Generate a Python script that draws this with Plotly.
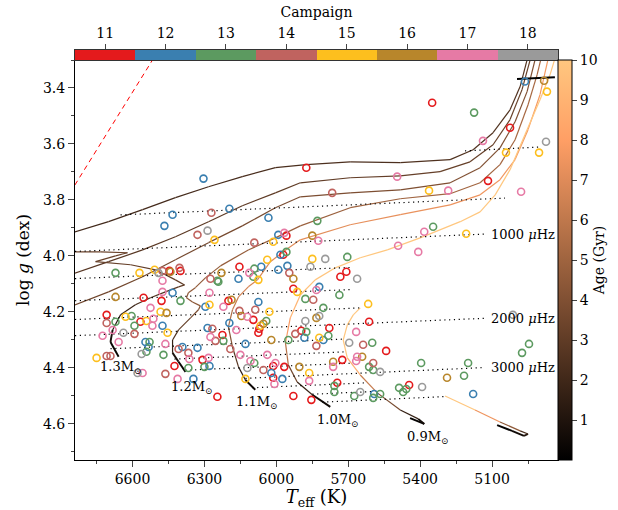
import plotly.graph_objects as go

# ---------------- stars: Teff (K), log g (dex), K2 campaign ----------------
star_teff = [6304, 5875, 6433, 6467, 6271, 6196, 6033, 6287, 6329, 6258, 6092, 5829, 5992, 5967, 5958, 5850, 6013, 5825,
             5350, 5175, 4963, 4883, 4871, 5025, 5138, 4875, 5042, 4904, 5496, 5767, 5363, 5283, 5117, 4979, 5383, 5346,
             5208, 5492, 5408, 6038, 5983, 5971, 5958, 5850, 5796, 5704, 6063, 5992, 5954, 5858, 5946, 5733, 5708, 5663,
             5929, 6092, 6075, 6154, 6113, 6096, 6229, 6158, 6275, 6246, 6671, 6571, 6508, 6475, 6446, 6442, 6404, 6400,
             6492, 6475, 6671, 6554, 6479, 6475, 6433, 6400, 6525, 6483, 6458, 6708, 6708, 6629, 6604, 6671, 6567, 6542,
             6513, 6592, 6517, 6475, 6683, 6638, 6592, 6725, 6454, 6658, 6546, 6529, 6533, 6542, 6562, 6692, 6708, 6750,
             6579, 6558, 6463, 6471, 6463, 6408, 6392, 6367, 6425, 6363, 6308, 6283, 6367, 6346, 6412, 6246, 6279, 6300,
             6329, 6287, 6267, 6275, 6225, 6221, 6254, 6279, 6187, 6200, 6221, 6296, 6279, 6242, 6075, 6088, 6029, 6154,
             6146, 6196, 6121, 6096, 6071, 6066, 6042, 6054, 6075, 5929, 5913, 5821, 5833, 5737, 5879, 5846, 5804, 5833,
             5821, 5879, 5617, 5613, 5667, 5779, 5896, 5875, 5883, 5821, 5804, 5783, 5921, 5833, 5696, 5638, 5600, 6021,
             5950, 5542, 5596, 5663, 5642, 5667, 5725, 5763, 5763, 5613, 5596, 5567, 5396, 5288, 6038, 6004, 6013, 5967,
             5904, 6054, 6021, 5863, 5863, 5975, 6013, 6008, 5746, 5758, 5758, 5650, 5675, 5592, 5567, 5596, 5488, 5471,
             5446, 5392, 5929, 5854, 5200, 5217, 5179, 4975, 4946, 5013, 5458, 6121, 6108, 6092, 6129, 6150, 6192, 6167,
             6129]
star_logg = [3.724, 3.685, 3.853, 3.893, 3.846, 3.832, 3.864, 3.910, 3.925, 3.943, 3.953, 3.875, 3.925, 3.918, 3.928,
             3.928, 3.950, 3.946, 3.453, 3.488, 3.377, 3.374, 3.413, 3.542, 3.589, 3.592, 3.631, 3.631, 3.717, 3.775,
             3.767, 3.767, 3.732, 3.771, 3.914, 3.896, 3.921, 3.964, 3.986, 4.014, 3.996, 3.996, 3.986, 4.011, 4.011,
             4.004, 4.039, 4.050, 4.036, 4.039, 4.061, 4.075, 4.057, 4.082, 4.082, 4.046, 4.086, 4.039, 4.061, 4.075,
             4.061, 4.082, 4.082, 4.089, 4.061, 4.061, 4.050, 4.054, 4.054, 4.057, 4.043, 4.054, 4.061, 4.089, 4.147,
             4.150, 4.161, 4.129, 4.132, 4.161, 4.186, 4.200, 4.204, 4.211, 4.240, 4.218, 4.215, 4.236, 4.236, 4.233,
             4.225, 4.250, 4.250, 4.250, 4.265, 4.275, 4.279, 4.286, 4.275, 4.308, 4.308, 4.308, 4.326, 4.343, 4.351,
             4.358, 4.358, 4.365, 4.419, 4.419, 4.422, 4.354, 4.315, 4.333, 4.326, 4.347, 4.394, 4.369, 4.372, 4.365,
             4.401, 4.440, 4.440, 4.504, 4.394, 4.397, 4.329, 4.258, 4.261, 4.290, 4.283, 4.304, 4.304, 4.175, 4.157,
             4.161, 4.182, 4.182, 4.132, 4.093, 4.165, 4.193, 4.200, 4.197, 4.215, 4.240, 4.218, 4.229, 4.261, 4.250,
             4.233, 4.243, 4.275, 4.118, 4.129, 4.111, 4.122, 4.140, 4.154, 4.157, 4.186, 4.222, 4.215, 4.233, 4.172,
             4.236, 4.272, 4.258, 4.268, 4.272, 4.293, 4.293, 4.301, 4.286, 4.279, 4.322, 4.311, 4.318, 4.311, 4.301,
             4.301, 4.340, 4.383, 4.361, 4.361, 4.376, 4.372, 4.379, 4.397, 4.397, 4.408, 4.415, 4.383, 4.436, 4.354,
             4.383, 4.394, 4.397, 4.397, 4.408, 4.419, 4.419, 4.447, 4.440, 4.436, 4.458, 4.454, 4.465, 4.487, 4.487,
             4.501, 4.494, 4.494, 4.508, 4.472, 4.487, 4.462, 4.469, 4.501, 4.515, 4.383, 4.429, 4.494, 4.347, 4.315,
             4.211, 4.476, 4.401, 4.376, 4.383, 4.440, 4.354, 4.333, 4.265, 4.315]
star_campaign = [12, 11, 12, 12, 14, 12, 12, 18, 14, 15, 14, 13, 12, 17, 11, 16, 15, 17,
                 11, 13, 12, 16, 15, 11, 17, 18, 15, 15, 17, 14, 15, 17, 11, 17, 17, 13,
                 15, 17, 17, 15, 12, 11, 13, 15, 18, 13, 12, 12, 12, 18, 14, 11, 11, 18,
                 16, 13, 15, 11, 17, 13, 16, 12, 14, 13, 13, 15, 15, 14, 11, 16, 14, 11,
                 18, 17, 16, 11, 11, 17, 12, 13, 17, 15, 16, 11, 14, 15, 13, 13, 11, 15,
                 17, 13, 17, 12, 17, 18, 14, 17, 15, 17, 12, 13, 12, 13, 18, 14, 14, 15,
                 18, 17, 14, 13, 17, 14, 12, 14, 11, 17, 11, 17, 13, 12, 17, 11, 12, 13,
                 12, 12, 14, 17, 11, 13, 14, 15, 16, 11, 17, 12, 17, 13, 12, 14, 15, 14,
                 16, 12, 17, 11, 11, 15, 13, 16, 11, 11, 15, 12, 17, 13, 13, 14, 13, 16,
                 18, 18, 15, 11, 17, 11, 11, 13, 12, 15, 12, 13, 14, 14, 18, 14, 13, 16,
                 13, 11, 14, 17, 16, 17, 11, 16, 17, 13, 13, 18, 13, 16, 17, 17, 11, 11,
                 16, 14, 12, 15, 17, 12, 11, 17, 11, 13, 13, 18, 13, 12, 13, 13, 13, 13,
                 11, 18, 11, 11, 13, 13, 12, 13, 13, 18, 13, 18, 17, 13, 15, 17, 14, 17,
                 12]

campaigns = [11, 12, 13, 14, 15, 16, 17, 18]
campaign_colors = ['#e41a1c', '#3a7fb0', '#5c9a60', '#c0635f', '#fdbf1e', '#b8862b', '#e67aa5', '#9a9a9a']

# ---------------- evolutionary tracks: Teff, log g, age (Gyr) ----------------
trk15_teff = [6900, 6700, 6558, 6421, 6283, 6142, 6004, 5875, 5692, 5483, 5275, 5179, 5096, 5025, 4983, 4945]
trk15_logg = [3.930, 3.878, 3.835, 3.792, 3.753, 3.717, 3.685, 3.674, 3.664, 3.667, 3.656, 3.621, 3.560, 3.478, 3.395, 3.270]
trk15_age = [2.0, 2.05, 2.1, 2.15, 2.2, 2.25, 2.3, 2.35, 2.4, 2.45, 2.5, 2.52, 2.54, 2.56, 2.58, 2.6]

trk14_teff = [6900, 6700, 6558, 6421, 6283, 6142, 6004, 5900, 5692, 5483, 5317, 5192, 5096, 5025, 4975, 4935]
trk14_logg = [4.080, 4.021, 3.979, 3.932, 3.878, 3.821, 3.775, 3.739, 3.721, 3.714, 3.699, 3.664, 3.603, 3.513, 3.406, 3.280]
trk14_age = [2.7, 2.75, 2.8, 2.85, 2.9, 2.95, 3.0, 3.05, 3.1, 3.15, 3.2, 3.22, 3.24, 3.26, 3.28, 3.3]

trk13_teff = [6658, 6692, 6683, 6650, 6588, 6525, 6463, 6408, 6383, 6421, 6504, 6608, 6754, 6671, 6621, 6733, 6900]
trk13_logg = [4.361, 4.308, 4.265, 4.211, 4.175, 4.150, 4.129, 4.111, 4.104, 4.086, 4.050, 4.032, 4.021, 4.000, 3.989, 3.986, 3.986]
trk13_age = [0.0, 0.5, 1.0, 1.5, 2.0, 2.4, 2.7, 2.9, 3.0, 3.05, 3.1, 3.15, 3.2, 3.25, 3.3, 3.35, 3.4]

trk13sg_teff = [6900, 6700, 6558, 6421, 6283, 6142, 6004, 5900, 5692, 5483, 5275, 5150, 5067, 5004, 4954, 4915]
trk13sg_logg = [4.195, 4.129, 4.075, 4.014, 3.953, 3.893, 3.828, 3.789, 3.775, 3.764, 3.739, 3.685, 3.614, 3.521, 3.413, 3.280]
trk13sg_age = [3.5, 3.55, 3.6, 3.65, 3.7, 3.75, 3.8, 3.85, 3.9, 3.95, 4.0, 4.02, 4.04, 4.06, 4.08, 4.1]

trk12_teff = [6379, 6408, 6433, 6433, 6408, 6358, 6325, 6317, 6350, 6375, 6367, 6338, 6296, 6233, 6117, 6004, 5900,
              5692, 5483, 5275, 5150, 5067, 5004, 4950, 4912, 4892]
trk12_logg = [4.415, 4.379, 4.347, 4.301, 4.265, 4.222, 4.193, 4.179, 4.165, 4.150, 4.132, 4.114, 4.079, 4.036, 3.979,
              3.936, 3.893, 3.828, 3.796, 3.778, 3.739, 3.674, 3.585, 3.460, 3.352, 3.281]
trk12_age = [0.0, 0.5, 1.2, 2.0, 2.8, 3.5, 4.0, 4.3, 4.4, 4.45, 4.5, 4.55, 4.6, 4.65, 4.7, 4.75, 4.8, 4.9, 5.0, 5.05,
             5.1, 5.15, 5.2, 5.25, 5.3, 5.35]

trk11_teff = [6088, 6129, 6158, 6183, 6200, 6183, 6158, 6117, 6079, 6025, 5954, 5900, 5692, 5483, 5275, 5150, 5067,
              5004, 4950, 4900, 4867]
trk11_logg = [4.479, 4.444, 4.397, 4.326, 4.254, 4.193, 4.147, 4.111, 4.086, 4.021, 3.975, 3.943, 3.889, 3.853, 3.818,
              3.782, 3.728, 3.656, 3.549, 3.424, 3.299]
trk11_age = [0.0, 0.8, 2.0, 3.5, 5.0, 6.0, 6.5, 6.7, 6.8, 6.9, 7.0, 7.05, 7.2, 7.3, 7.4, 7.5, 7.55, 7.6, 7.65, 7.7, 7.75]

trk10_teff = [5775, 5850, 5913, 5950, 5962, 5942, 5900, 5838, 5754, 5650, 5537, 5400, 5233, 5150, 5087, 5025, 4963,
              4900, 4858, 4833]
trk10_logg = [4.540, 4.497, 4.451, 4.390, 4.311, 4.222, 4.140, 4.086, 4.043, 4.007, 3.979, 3.936, 3.878, 3.843, 3.782,
              3.692, 3.567, 3.442, 3.352, 3.281]
trk10_age = [0.0, 1.0, 2.5, 4.5, 7.0, 8.7, 9.5, 9.8, 10.0, 10.2, 10.4, 10.6, 10.8, 11.0, 11.1, 11.2, 11.3, 11.4, 11.5, 11.6]

trk09_teff = [5442, 5383, 5408, 5483, 5579, 5650, 5704, 5721, 5704, 5679, 5650]
trk09_logg = [4.580, 4.601, 4.583, 4.551, 4.490, 4.426, 4.365, 4.301, 4.247, 4.211, 4.186]
trk09_age = [0.0, 0.3, 0.8, 2.5, 5.0, 7.5, 10.0, 11.5, 12.5, 13.0, 14.0]

trk08_teff = [5079, 5017, 4967, 4950, 4983, 5067, 5171, 5296]
trk08_logg = [4.605, 4.626, 4.644, 4.637, 4.626, 4.594, 4.551, 4.501]
trk08_age = [0.0, 0.3, 0.8, 1.5, 3.0, 6.0, 9.0, 12.0]

# ---------------- lines of constant nu_max (uHz) ----------------
numax_levels = [500, 750, 1000, 1250, 1500, 1750, 2000, 2250, 2500, 2750, 3000, 3250, 3500, 3750]
numax_teff_hot = [5213, 6650, 6900, 6900, 6900, 6900, 6900, 6692, 6425, 6379, 6129, 6100, 5850, 5808]
numax_logg_hot = [3.6247, 3.8537, 3.9866, 4.0835, 4.1627, 4.2297, 4.2877, 4.3321, 4.3691, 4.4089, 4.4381, 4.4717, 4.4948, 4.5233]
numax_teff_cool = [4908, 5046, 5129, 5692, 5692, 5650, 5129, 5712, 5712, 5683, 5129, 5629, 5600, 5296]
numax_logg_cool = [3.6116, 3.7937, 3.9222, 4.0417, 4.1209, 4.1863, 4.2233, 4.2977, 4.3435, 4.3838, 4.3994, 4.4543, 4.4853, 4.5032]
numax_labelled = [1000, 2000, 3000]

# long-cadence Nyquist line and red dashed edge
nyq_teff = [4996, 4838]
nyq_logg = [3.3683, 3.3614]
edge_teff = [6900, 6450]
edge_logg = [3.829, 3.208]

mass_labels = ['1.3', '1.2', '1.1', '1.0', '0.9']
mass_label_teff = [6650, 6350, 6079, 5742, 5367]
mass_label_logg = [4.401, 4.472, 4.526, 4.587, 4.648]

FONT = 'DejaVu Serif'


def copper(age, amax=10.0):
    t = min(max(age / amax, 0.0), 1.0)
    r = min(1.0, 1.25 * t)
    g = 0.7812 * t
    b = 0.4975 * t
    return 'rgb(%d,%d,%d)' % (round(255 * r), round(255 * g), round(255 * b))


copper_scale = [[i / 10, copper(i)] for i in range(11)]

fig = go.Figure()

# tracks, each segment coloured by age
tracks = [
    (trk15_teff, trk15_logg, trk15_age),
    (trk14_teff, trk14_logg, trk14_age),
    (trk13_teff, trk13_logg, trk13_age),
    (trk13sg_teff, trk13sg_logg, trk13sg_age),
    (trk12_teff, trk12_logg, trk12_age),
    (trk11_teff, trk11_logg, trk11_age),
    (trk10_teff, trk10_logg, trk10_age),
    (trk09_teff, trk09_logg, trk09_age),
    (trk08_teff, trk08_logg, trk08_age),
]
for tt, gg, aa in tracks:
    for i in range(len(tt) - 1):
        a = 0.5 * (aa[i] + aa[i + 1])
        fig.add_trace(go.Scatter(
            x=[tt[i], tt[i + 1]], y=[gg[i], gg[i + 1]], mode='lines',
            line=dict(color=copper(a), width=1.9 if a < 1.2 else 1.2),
            showlegend=False, hoverinfo='skip'))

# constant nu_max lines
for k in range(len(numax_levels)):
    fig.add_trace(go.Scatter(
        x=[numax_teff_hot[k], numax_teff_cool[k]], y=[numax_logg_hot[k], numax_logg_cool[k]],
        mode='lines', line=dict(color='black', width=1.2, dash='1.2px,3.6px'),
        showlegend=False, hoverinfo='skip'))

fig.add_trace(go.Scatter(x=nyq_teff, y=nyq_logg, mode='lines',
                         line=dict(color='black', width=2), showlegend=False, hoverinfo='skip'))
fig.add_trace(go.Scatter(x=edge_teff, y=edge_logg, mode='lines',
                         line=dict(color='red', width=1, dash='5px,4px'), showlegend=False, hoverinfo='skip'))

# stars by campaign
for c, col in zip(campaigns, campaign_colors):
    xs = [t for t, cc in zip(star_teff, star_campaign) if cc == c]
    ys = [g for g, cc in zip(star_logg, star_campaign) if cc == c]
    fig.add_trace(go.Scatter(x=xs, y=ys, mode='markers',
                             marker=dict(symbol='circle-open', size=7, color=col, line=dict(width=1.6)),
                             showlegend=False))

# age colour bar
fig.add_trace(go.Scatter(
    x=[None], y=[None], mode='markers',
    marker=dict(color=[0], cmin=0, cmax=10, colorscale=copper_scale, showscale=True,
                colorbar=dict(x=1.0, xanchor='left', xpad=0, y=0, yanchor='bottom', ypad=0,
                              len=400 / 410, lenmode='fraction', thickness=14,
                              outlinewidth=1, outlinecolor='black',
                              tickvals=list(range(1, 11)), ticks='outside', ticklen=5,
                              tickfont=dict(family=FONT, size=14, color='black'),
                              title=dict(text='Age (Gyr)', side='right',
                                         font=dict(family=FONT, size=14, color='black')))),
    showlegend=False, hoverinfo='skip'))

# campaign colour strip
n = len(campaigns)
strip_scale = []
for i, col in enumerate(campaign_colors):
    strip_scale.append([i / n, col])
    strip_scale.append([(i + 1) / n, col])
fig.add_trace(go.Heatmap(z=[campaigns], x=campaigns, y=[0], colorscale=strip_scale,
                         zmin=10.5, zmax=18.5, showscale=False, xaxis='x2', yaxis='y2',
                         hoverinfo='skip'))

# mass labels
for m, tx, gy in zip(mass_labels, mass_label_teff, mass_label_logg):
    fig.add_annotation(x=tx, y=gy, text=m + 'M<sub>⊙</sub>', showarrow=False,
                       font=dict(family=FONT, size=13, color='black'), xanchor='center', yanchor='middle')

for k, nu in enumerate(numax_levels):
    if nu in numax_labelled:
        fig.add_annotation(x=numax_teff_cool[k], y=numax_logg_cool[k], text='%d <i>μ</i>Hz' % nu,
                           showarrow=False, xanchor='left', yanchor='middle', xshift=4,
                           font=dict(family=FONT, size=13, color='black'))

main_dom = 400 / 410
fig.update_layout(
    width=618, height=510,
    margin=dict(l=75, r=60, t=50, b=50, autoexpand=False),
    paper_bgcolor='white', plot_bgcolor='white',
    font=dict(family=FONT, size=14, color='black'),
    xaxis=dict(range=[6840, 4825], domain=[0, 1], anchor='y',
               tick0=6600, dtick=300, ticks='outside', ticklen=6, tickwidth=1,
               minor=dict(tick0=6600, dtick=150, ticks='outside', ticklen=3),
               showline=True, mirror=True, linecolor='black', linewidth=1, showgrid=False, zeroline=False,
               tickfont=dict(family=FONT, size=14),
               title=dict(text='<i>T</i><sub>eff</sub> (K)', font=dict(family=FONT, size=18), standoff=6)),
    yaxis=dict(range=[4.73, 3.30], domain=[0, main_dom], anchor='x',
               tick0=3.4, dtick=0.2, tickformat='.1f', ticks='outside', ticklen=6, tickwidth=1,
               minor=dict(tick0=3.4, dtick=0.1, ticks='outside', ticklen=3),
               showline=True, mirror=True, linecolor='black', linewidth=1, showgrid=False, zeroline=False,
               tickfont=dict(family=FONT, size=14),
               title=dict(text='log <i>g</i> (dex)', font=dict(family=FONT, size=17), standoff=8)),
    xaxis2=dict(range=[10.5, 18.5], domain=[0, 1], anchor='y2', side='top',
                tickvals=campaigns, ticks='outside', ticklen=5, tickwidth=1,
                showline=True, mirror=True, linecolor='#333333', linewidth=1.2, showgrid=False, zeroline=False,
                tickfont=dict(family=FONT, size=14),
                title=dict(text='Campaign', font=dict(family=FONT, size=14), standoff=4)),
    yaxis2=dict(range=[-0.5, 0.5], domain=[main_dom, 1], anchor='x2', showticklabels=False, ticks='',
                showline=True, mirror=True, linecolor='#333333', linewidth=1.2, showgrid=False, zeroline=False),
)

fig.write_html('out.html')
